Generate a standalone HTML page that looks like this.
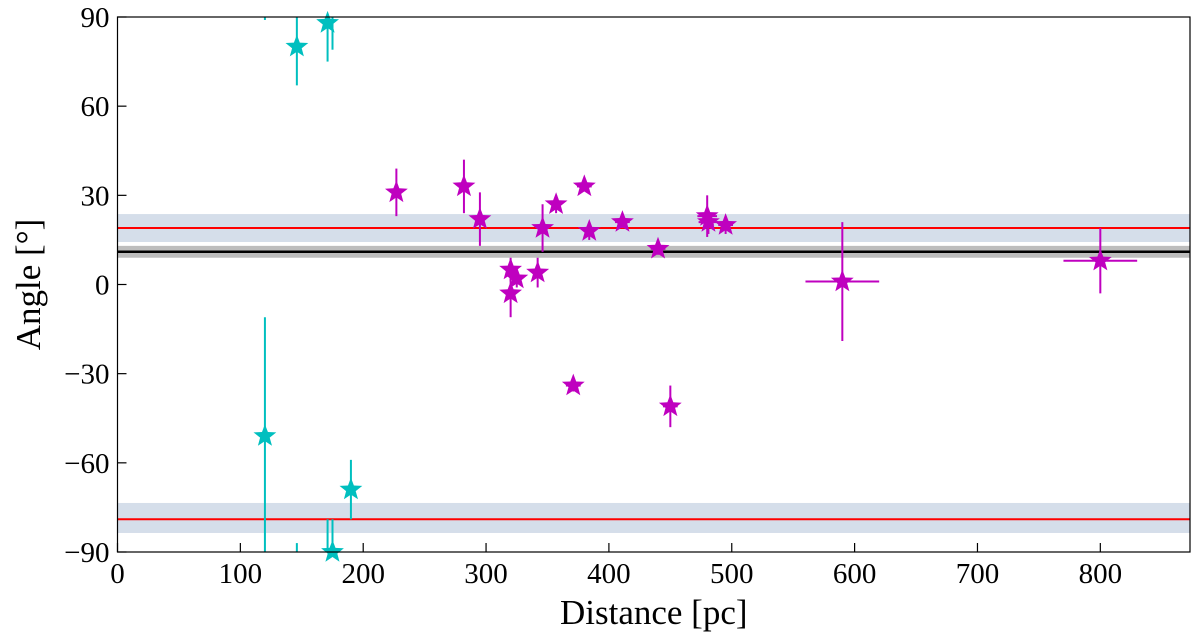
<!DOCTYPE html>
<html><head><meta charset="utf-8"><style>
body{margin:0;background:#fff}
svg text{font-family:"Liberation Serif",serif;fill:#000}
</style></head><body>
<svg id="chart" width="1200" height="635" xmlns="http://www.w3.org/2000/svg">
<g id="bands"></g><g id="marks"></g><g id="axes"></g>
</svg>
<script>
const magX=[227,282,295,320,320,325,342,346,357,371,380,384,411,440,450,480,481,495,590,800];
const magY=[31,33,22,-3,5,2,4,19,27,-34,33,18,21,12,-41,23,21,20,1,8];
const magYErr=[8,9,9,8,4,3,5,8,3,2,1,3,2,2,7,7,4,3,20,11];
const magXErr=[4,4,4,4,4,4,4,4,4,6,6,4,6,6,6,8,8,6,30,30];
const cyanX=[120,146,171,175,190];
const cyanY=[-51,80,88,-90,-69];
const cyanYErr=[40,13,13,11,10];
const xTicks=[0,100,200,300,400,500,600,700,800];
const yTicks=[-90,-60,-30,0,30,60,90];
const redLines=[19,-79];
const redBands=[[14.3,23.7],[-83.6,-73.5]];
const blackLine=11;const grayBand=[9,13];
const X0=117.5,X1=1190,Y0=17,Y1=552,xmax=873;
const sx=v=>X0+v/xmax*(X1-X0);
const sy=v=>Y0+(90-v)/180*(Y1-Y0);
const NS='http://www.w3.org/2000/svg';
function mk(p,t,a){const e=document.createElementNS(NS,t);for(const k in a)e.setAttribute(k,a[k]);p.appendChild(e);return e;}
const bands=document.getElementById('bands'),marks=document.getElementById('marks'),axes=document.getElementById('axes');
redBands.forEach(b=>{const r=mk(bands,'rect',{x:X0,y:sy(b[1]),width:X1-X0,height:sy(b[0])-sy(b[1]),fill:'#d5deea'});

});
const g=mk(bands,'rect',{x:X0,y:sy(grayBand[1]),width:X1-X0,height:sy(grayBand[0])-sy(grayBand[1]),fill:'#bdbdbd'});


redLines.forEach(v=>{const l=mk(bands,'line',{x1:X0,x2:X1,y1:sy(v),y2:sy(v),stroke:'#f00','stroke-width':2});

});
const bl=mk(bands,'line',{x1:X0,x2:X1,y1:sy(blackLine),y2:sy(blackLine),stroke:'#000','stroke-width':2.5});


function star(cx,cy,r,col){let p=[];for(let i=0;i<10;i++){const a=-Math.PI/2+i*Math.PI/5,rr=i%2?r*0.42:r;p.push((cx+rr*Math.cos(a)).toFixed(1)+','+(cy+rr*Math.sin(a)).toFixed(1));}
return mk(marks,'polygon',{points:p.join(' '),fill:col});}
function clipLine(x,a,b,col){const lo=Math.max(-90,Math.min(a,b)),hi=Math.min(90,Math.max(a,b));if(hi<=lo)return;
const l=mk(marks,'line',{x1:sx(x),x2:sx(x),y1:sy(hi),y2:sy(lo),stroke:col,'stroke-width':2});

}
magX.forEach((x,i)=>{const c='#bf00bf',y=magY[i];
clipLine(x,y-magYErr[i],y+magYErr[i],c);
const h=mk(marks,'line',{x1:sx(x-magXErr[i]),x2:sx(x+magXErr[i]),y1:sy(y),y2:sy(y),stroke:c,'stroke-width':2});


const s=star(sx(x),sy(y),12,c);

});
cyanX.forEach((x,i)=>{const c='#00bfbf',y=cyanY[i],e=cyanYErr[i];
clipLine(x,y-e,y+e,c);
if(y+e>90)clipLine(x,-90,y+e-180,c);
if(y-e<-90)clipLine(x,y-e+180,90,c);
const s=star(sx(x),sy(y),12,c);

});
const fr=mk(axes,'rect',{x:X0,y:Y0,width:X1-X0,height:Y1-Y0,fill:'none',stroke:'#000','stroke-width':1.2});


xTicks.forEach(v=>{mk(axes,'line',{x1:sx(v),x2:sx(v),y1:Y1,y2:Y1-9,stroke:'#000','stroke-width':1.2});
const t=mk(axes,'text',{x:sx(v),y:Y1+31,'text-anchor':'middle','font-size':29});t.textContent=v;

});
yTicks.forEach(v=>{mk(axes,'line',{x1:X0,x2:X0+9,y1:sy(v),y2:sy(v),stroke:'#000','stroke-width':1.2});
const t=mk(axes,'text',{x:X0-8,y:sy(v)+10,'text-anchor':'end','font-size':29});t.textContent=v<0?'\u2212'+(-v):v;

});
const xl=mk(axes,'text',{x:(X0+X1)/2,y:624,'text-anchor':'middle','font-size':35});xl.textContent='Distance [pc]';


const yl=mk(axes,'text',{x:0,y:0,'text-anchor':'middle','font-size':35,transform:`translate(40,${(Y0+Y1)/2}) rotate(-90)`});yl.textContent='Angle [°]';


</script>
</body></html>
